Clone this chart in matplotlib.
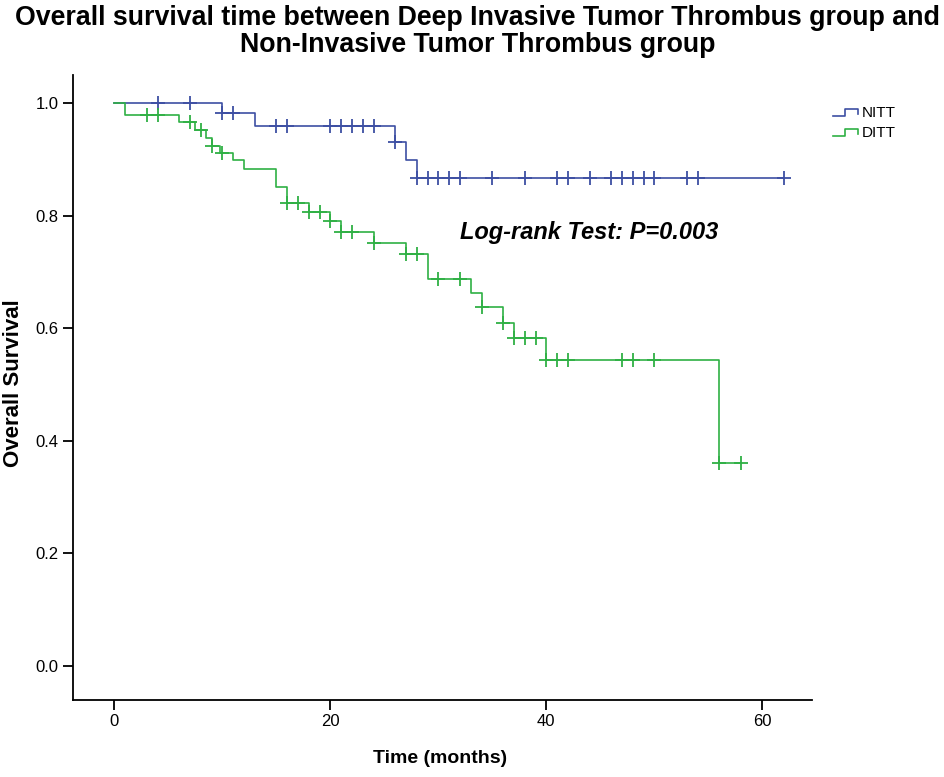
import numpy as np
import matplotlib
matplotlib.use("Agg")
import matplotlib.pyplot as plt
from matplotlib.lines import Line2D

plt.rcParams['font.family'] = ['Liberation Sans', 'DejaVu Sans']

# ---- data ----
nitt_event_times = [10, 13, 26, 27, 28]
nitt_survival = [0.982, 0.960, 0.931, 0.899, 0.868]
nitt_censor_times = [4, 7, 10, 11, 15, 16, 20, 21, 22, 23, 24, 26, 28, 29, 30, 31, 32,
                     35, 38, 41, 42, 44, 46, 47, 48, 49, 50, 53, 54, 62]

ditt_event_times = [1, 6, 7.5, 8.5, 9, 9.8, 11, 12, 15, 16, 18, 20, 21, 24, 27, 29,
                    33, 34, 36, 37, 40, 56]
ditt_survival = [0.980, 0.966, 0.953, 0.939, 0.924, 0.912, 0.899, 0.883, 0.852, 0.823,
                 0.807, 0.790, 0.772, 0.751, 0.732, 0.687, 0.663, 0.638, 0.609, 0.582,
                 0.544, 0.361]
ditt_censor_times = [3, 4, 7, 8, 9, 10, 16, 17, 18, 19, 20, 21, 22, 24, 27, 28, 30, 32,
                     34, 36, 37, 38, 39, 40, 41, 42, 47, 48, 50, 56, 58]

groups = ["NITT", "DITT"]
colors = {"NITT": "#3d4fa3", "DITT": "#2fb044"}
x_ticks = [0, 20, 40, 60]
y_ticks = [0.0, 0.2, 0.4, 0.6, 0.8, 1.0]

title_lines = ["Overall survival time between Deep Invasive Tumor Thrombus group and",
               "Non-Invasive Tumor Thrombus group"]
annotation = "Log-rank Test: P=0.003"

# ---- figure ----
W, H = 945, 777
fig = plt.figure(figsize=(W / 100, H / 100), dpi=100)
ax = fig.add_axes([72.7 / W, 1 - 700 / H, (811.7 - 72.7) / W, (700 - 75) / H])


def surv_at(t, ev, s):
    idx = np.searchsorted(np.asarray(ev, float), t, side='right')
    levels = np.concatenate([[1.0], s])
    return levels[idx]


data = {
    "NITT": (nitt_event_times, nitt_survival, nitt_censor_times),
    "DITT": (ditt_event_times, ditt_survival, ditt_censor_times),
}

for g in groups:
    ev, s, cens = data[g]
    t_end = max(max(ev), max(cens))
    xs = np.concatenate([[0], ev, [t_end]])
    ys = np.concatenate([[1.0], s, [s[-1]]])
    ax.step(xs, ys, where='post', color=colors[g], lw=1.2, zorder=3)
    cy = surv_at(np.asarray(cens, float), ev, s)
    ax.plot(cens, cy, linestyle='none', marker='+', markersize=10,
            markeredgewidth=1.3, color=colors[g], zorder=4)

ax.set_xlim((72.7 - 114.3) / 10.8, (811.7 - 114.3) / 10.8)
ax.set_ylim(-(700 - 665.8) / 562.5, 1 + (103.3 - 75) / 562.5)
ax.set_xticks(x_ticks)
ax.set_yticks(y_ticks)
ax.set_yticklabels([f"{v:.1f}" for v in y_ticks])
ax.tick_params(direction='out', length=7, width=1.3, labelsize=12, colors='black', pad=3)
for side in ['top', 'right']:
    ax.spines[side].set_visible(False)
for side in ['left', 'bottom']:
    ax.spines[side].set_linewidth(1.3)

ax.set_xlabel("Time (months)", fontsize=14, fontweight='bold')
ax.set_ylabel("Overall Survival", fontsize=16, fontweight='bold')
ax.xaxis.set_label_coords((440 - 72.7) / (811.7 - 72.7), -(750 - 700) / (700 - 75))
ax.yaxis.set_label_coords(-(72.7 - 24) / (811.7 - 72.7), (700 - 383) / (700 - 75))

ax.text(32.0, 0.771, annotation, fontsize=17, fontweight='bold', style='italic',
        ha='left', va='center')

title_family = ['Liberation Sans', 'DejaVu Sans']
fig.text(478 / W, 1 - 18 / H, title_lines[0], ha='center', va='center', fontsize=19.3,
         fontweight='bold', family=title_family)
fig.text(478 / W, 1 - 45 / H, title_lines[1], ha='center', va='center', fontsize=19.3,
         fontweight='bold', family=title_family)

# legend with small step icons
for i, g in enumerate(groups):
    yc = 113 + i * 20
    xs_px = np.array([833, 845, 845, 858, 858])
    ys_px = np.array([yc + 3, yc + 3, yc - 4, yc - 4, yc + 1])
    fig.add_artist(Line2D(xs_px / W, 1 - ys_px / H, color=colors[g], lw=1.2,
                          transform=fig.transFigure))
    fig.text(862 / W, 1 - yc / H, g, fontsize=11, ha='left', va='center')

fig.savefig("out.png", dpi=100, facecolor='white')
